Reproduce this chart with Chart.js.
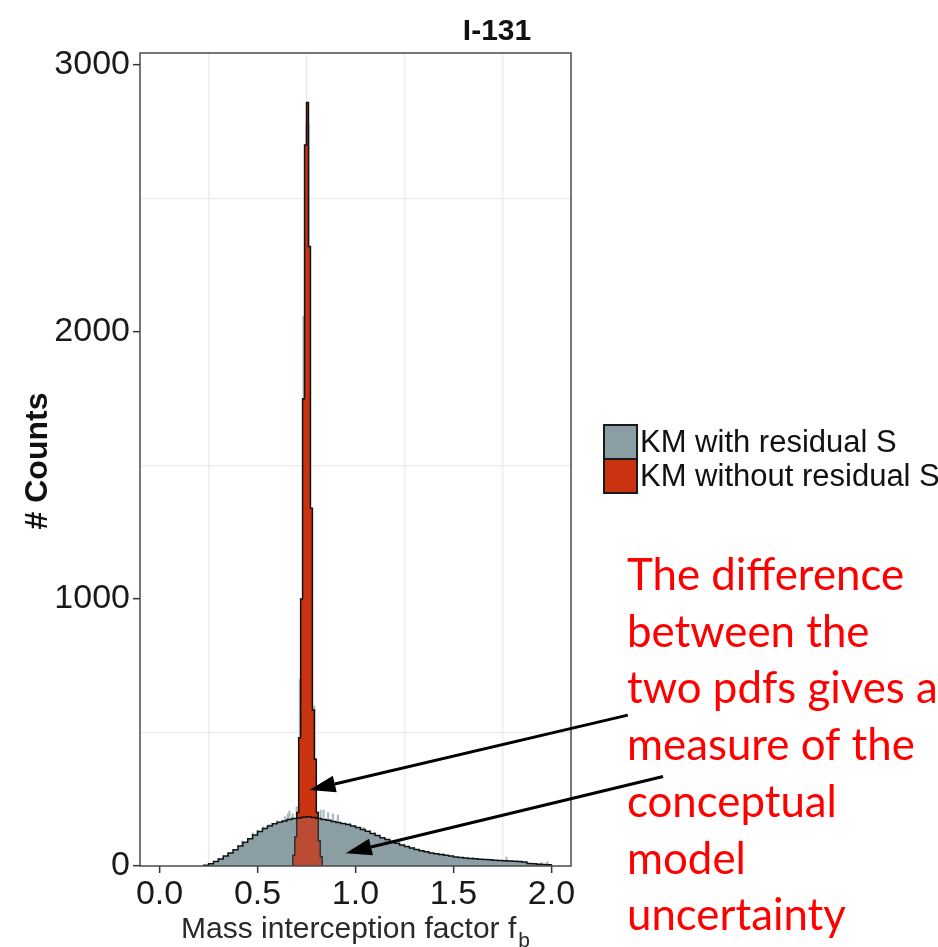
<!DOCTYPE html>
<html><head><meta charset="utf-8">
<script src="https://cdn.jsdelivr.net/npm/chart.js@4.4.0/dist/chart.umd.min.js"></script>
<style>html,body{margin:0;padding:0;background:#fff;overflow:hidden}</style>
</head><body>
<canvas id="c" width="938" height="947"></canvas>
<script>
// ---- data ----
const chartTitle = 'I-131';
const seriesNames = ['KM with residual S', 'KM without residual S'];
const greyStart = 0.225, greyWidth = 0.025;
const greyCounts = [3,8,17,26,37,49,61,75,89,102,116,129,140,150,158,164,169,174,178,180,
  183,184,182,178,174,171,167,163,159,155,150,144,137,130,122,114,106,99,92,85,
  79,73,67,62,57,53,49,46,43,40,37,34,32,30,28,27,25,24,23,22,
  21,20,19,18,17,15,9,8,7,6,5];
const redStart = 0.68, redWidth = 0.01;
const redCounts = [40,110,200,480,1000,1750,2700,2860,2320,1340,584,400,200,95,35];
// fine-bin noise spikes of the grey histogram (x, count)
const spikeX = [0.30,0.35,0.42,0.475,0.50,0.53,0.56,0.60,0.64,0.655,0.663,0.68,0.70,0.716,0.735,0.75,0.76,0.79,0.822,0.837,0.86,0.885,0.91,0.97,0.995,1.04,1.10,1.20,1.30,1.45,1.60,1.77,1.95,1.98];
const spikeY = [28,48,94,124,135,148,157,170,185,195,206,195,222,700,2060,2780,2780,600,208,210,200,195,191,161,150,145,125,92,70,46,32,34,14,16];
const xTicks = [0,0.25,0.5,0.75,1.0,1.25,1.5,1.75,2.0];
const yTicks = [0,500,1000,1500,2000,2500,3000];
const xRange = [-0.1, 2.1];
const yRange = [0, 3045];
const xTitle = 'Mass interception factor f';
const xTitleSub = 'b';
const yTitle = '# Counts';
const noteLines = ['The difference','between the','two pdfs gives a','measure of the','conceptual','model','uncertainty'];
// arrows: [tailX, tailY, headX, headY] in data units
const arrows = [[2.39, 565, 0.765, 285], [2.57, 335, 0.95, 48]];

const GREY = '#8b9ea3', RED = '#c93310';

function stepData(start, w, counts) {
  const pts = [{x: start, y: 0}];
  counts.forEach((c, i) => pts.push({x: +(start + i * w).toFixed(4), y: c}));
  pts.push({x: +(start + counts.length * w).toFixed(4), y: 0});
  return pts;
}
const isMajorX = v => Math.abs(v * 2 - Math.round(v * 2)) < 1e-6;
const isMajorY = v => v % 1000 === 0;

const decor = {
  id: 'decor',
  afterDraw(chart) {
    const {ctx, chartArea: a, scales: {x, y}} = chart;
    ctx.save();
    // panel border
    ctx.strokeStyle = '#4a4a4a'; ctx.lineWidth = 1.5;
    ctx.strokeRect(a.left, a.top, a.right - a.left, a.bottom - a.top);
    // title
    ctx.fillStyle = '#111';
    ctx.font = 'bold 30px "Liberation Sans", Arial, sans-serif';
    ctx.textAlign = 'center'; ctx.textBaseline = 'alphabetic';
    ctx.fillText(chartTitle, 497, 40);
    // y title
    ctx.save();
    ctx.translate(47, 461); ctx.rotate(-Math.PI / 2);
    ctx.font = 'bold 32px "Liberation Sans", Arial, sans-serif';
    ctx.fillText(yTitle, 0, 0);
    ctx.restore();
    // x title with subscript
    ctx.fillStyle = '#2a2a2a';
    ctx.font = '30px "Liberation Sans", Arial, sans-serif';
    const w1 = ctx.measureText(xTitle).width;
    ctx.font = '21px "Liberation Sans", Arial, sans-serif';
    const w2 = ctx.measureText(xTitleSub).width;
    const cx = (a.left + a.right) / 2;
    const sx = cx - (w1 + w2 + 2) / 2;
    ctx.textAlign = 'left';
    ctx.font = '30px "Liberation Sans", Arial, sans-serif';
    ctx.fillText(xTitle, sx, 938);
    ctx.font = '21px "Liberation Sans", Arial, sans-serif';
    ctx.fillText(xTitleSub, sx + w1 + 2, 947);
    // legend
    const cols = [GREY, RED];
    ctx.font = '31px "Liberation Sans", Arial, sans-serif';
    ctx.textBaseline = 'middle';
    seriesNames.forEach((n, i) => {
      const top = 425 + i * 34;
      ctx.fillStyle = cols[i];
      ctx.fillRect(604, top, 33, 34);
      ctx.strokeStyle = '#1a1a1a'; ctx.lineWidth = 2;
      ctx.strokeRect(604, top, 33, 34);
      ctx.fillStyle = '#111';
      ctx.fillText(n, 640, top + 18);
    });
    // note text
    ctx.fillStyle = '#ff0000';
    ctx.textBaseline = 'alphabetic';
    ctx.font = '40px Lato, "Open Sans", sans-serif';
    const mw = ctx.measureText(noteLines[0]).width;
    const fs = 40 * 277 / mw;
    ctx.font = fs.toFixed(1) + 'px Lato, "Open Sans", sans-serif';
    noteLines.forEach((t, i) => ctx.fillText(t, 627, 590 + i * 56.7));
    // arrows
    ctx.strokeStyle = '#000'; ctx.fillStyle = '#000'; ctx.lineWidth = 3;
    arrows.forEach(([tx, ty, hx, hy]) => {
      const x0 = x.getPixelForValue(tx), y0 = y.getPixelForValue(ty);
      const x1 = x.getPixelForValue(hx), y1 = y.getPixelForValue(hy);
      const ang = Math.atan2(y1 - y0, x1 - x0);
      const L = 26, H = 8.5;
      const bx = x1 - L * Math.cos(ang), by = y1 - L * Math.sin(ang);
      ctx.beginPath(); ctx.moveTo(x0, y0); ctx.lineTo(bx, by); ctx.stroke();
      ctx.beginPath();
      ctx.moveTo(x1, y1);
      ctx.lineTo(bx + H * Math.sin(ang), by - H * Math.cos(ang));
      ctx.lineTo(bx - H * Math.sin(ang), by + H * Math.cos(ang));
      ctx.closePath(); ctx.fill();
    });
    ctx.restore();
  }
};

const greyData = stepData(greyStart, greyWidth, greyCounts);
const redData = stepData(redStart, redWidth, redCounts);
const spikeData = spikeX.map((v, i) => ({x: v, y: spikeY[i]}));

new Chart(document.getElementById('c'), {
  type: 'line',
  data: {
    datasets: [
      {label: seriesNames[0] + ' outline', data: greyData, stepped: true, fill: 'origin',
       backgroundColor: 'rgba(139,158,163,0.24)', borderColor: '#111', borderWidth: 1.5,
       pointRadius: 0, order: 0},
      {label: seriesNames[1], data: redData, stepped: true, fill: 'origin',
       backgroundColor: RED, borderColor: '#111', borderWidth: 1.5, pointRadius: 0, order: 1},
      {label: seriesNames[0], data: greyData, stepped: true, fill: 'origin',
       backgroundColor: GREY, borderColor: 'rgba(0,0,0,0)', borderWidth: 0, pointRadius: 0, order: 2},
      {type: 'bar', label: 'fine bins', data: spikeData, backgroundColor: '#a9bbc0',
       barThickness: 1.5, borderWidth: 0, order: 3}
    ]
  },
  options: {
    responsive: false, animation: false, devicePixelRatio: 1,
    layout: {padding: {left: 0, top: 53, right: 367, bottom: 0}},
    plugins: {legend: {display: false}, tooltip: {enabled: false}, title: {display: false}},
    scales: {
      x: {
        type: 'linear', min: xRange[0], max: xRange[1], offset: false,
        afterBuildTicks: s => { s.ticks = xTicks.map(v => ({value: v})); },
        afterFit: s => { s.height = 81; },
        border: {display: false},
        grid: {
          offset: false,
          color: c => (c.tick && isMajorX(c.tick.value)) ? 'rgba(0,0,0,0)' : '#ebebeb',
          lineWidth: 1.3,
          tickColor: c => (c.tick && isMajorX(c.tick.value)) ? '#333' : 'rgba(0,0,0,0)',
          tickLength: 7, tickWidth: 1.5
        },
        ticks: {
          autoSkip: false, maxRotation: 0, padding: 1, color: '#1a1a1a',
          font: {family: '"Liberation Sans", Arial, sans-serif', size: 34},
          callback: v => isMajorX(v) ? v.toFixed(1) : ''
        }
      },
      y: {
        type: 'linear', min: yRange[0], max: yRange[1],
        afterBuildTicks: s => { s.ticks = yTicks.map(v => ({value: v})); },
        afterFit: s => { s.width = 140; },
        border: {display: false},
        grid: {
          color: c => (c.tick && isMajorY(c.tick.value)) ? 'rgba(0,0,0,0)' : '#ebebeb',
          lineWidth: 1.3,
          tickColor: c => (c.tick && isMajorY(c.tick.value)) ? '#333' : 'rgba(0,0,0,0)',
          tickLength: 7, tickWidth: 1.5
        },
        ticks: {
          autoSkip: false, padding: 3, color: '#1a1a1a',
          font: {family: '"Liberation Sans", Arial, sans-serif', size: 34},
          callback: v => isMajorY(v) ? String(v) : ''
        }
      }
    }
  },
  plugins: [decor]
});
</script>
</body></html>
